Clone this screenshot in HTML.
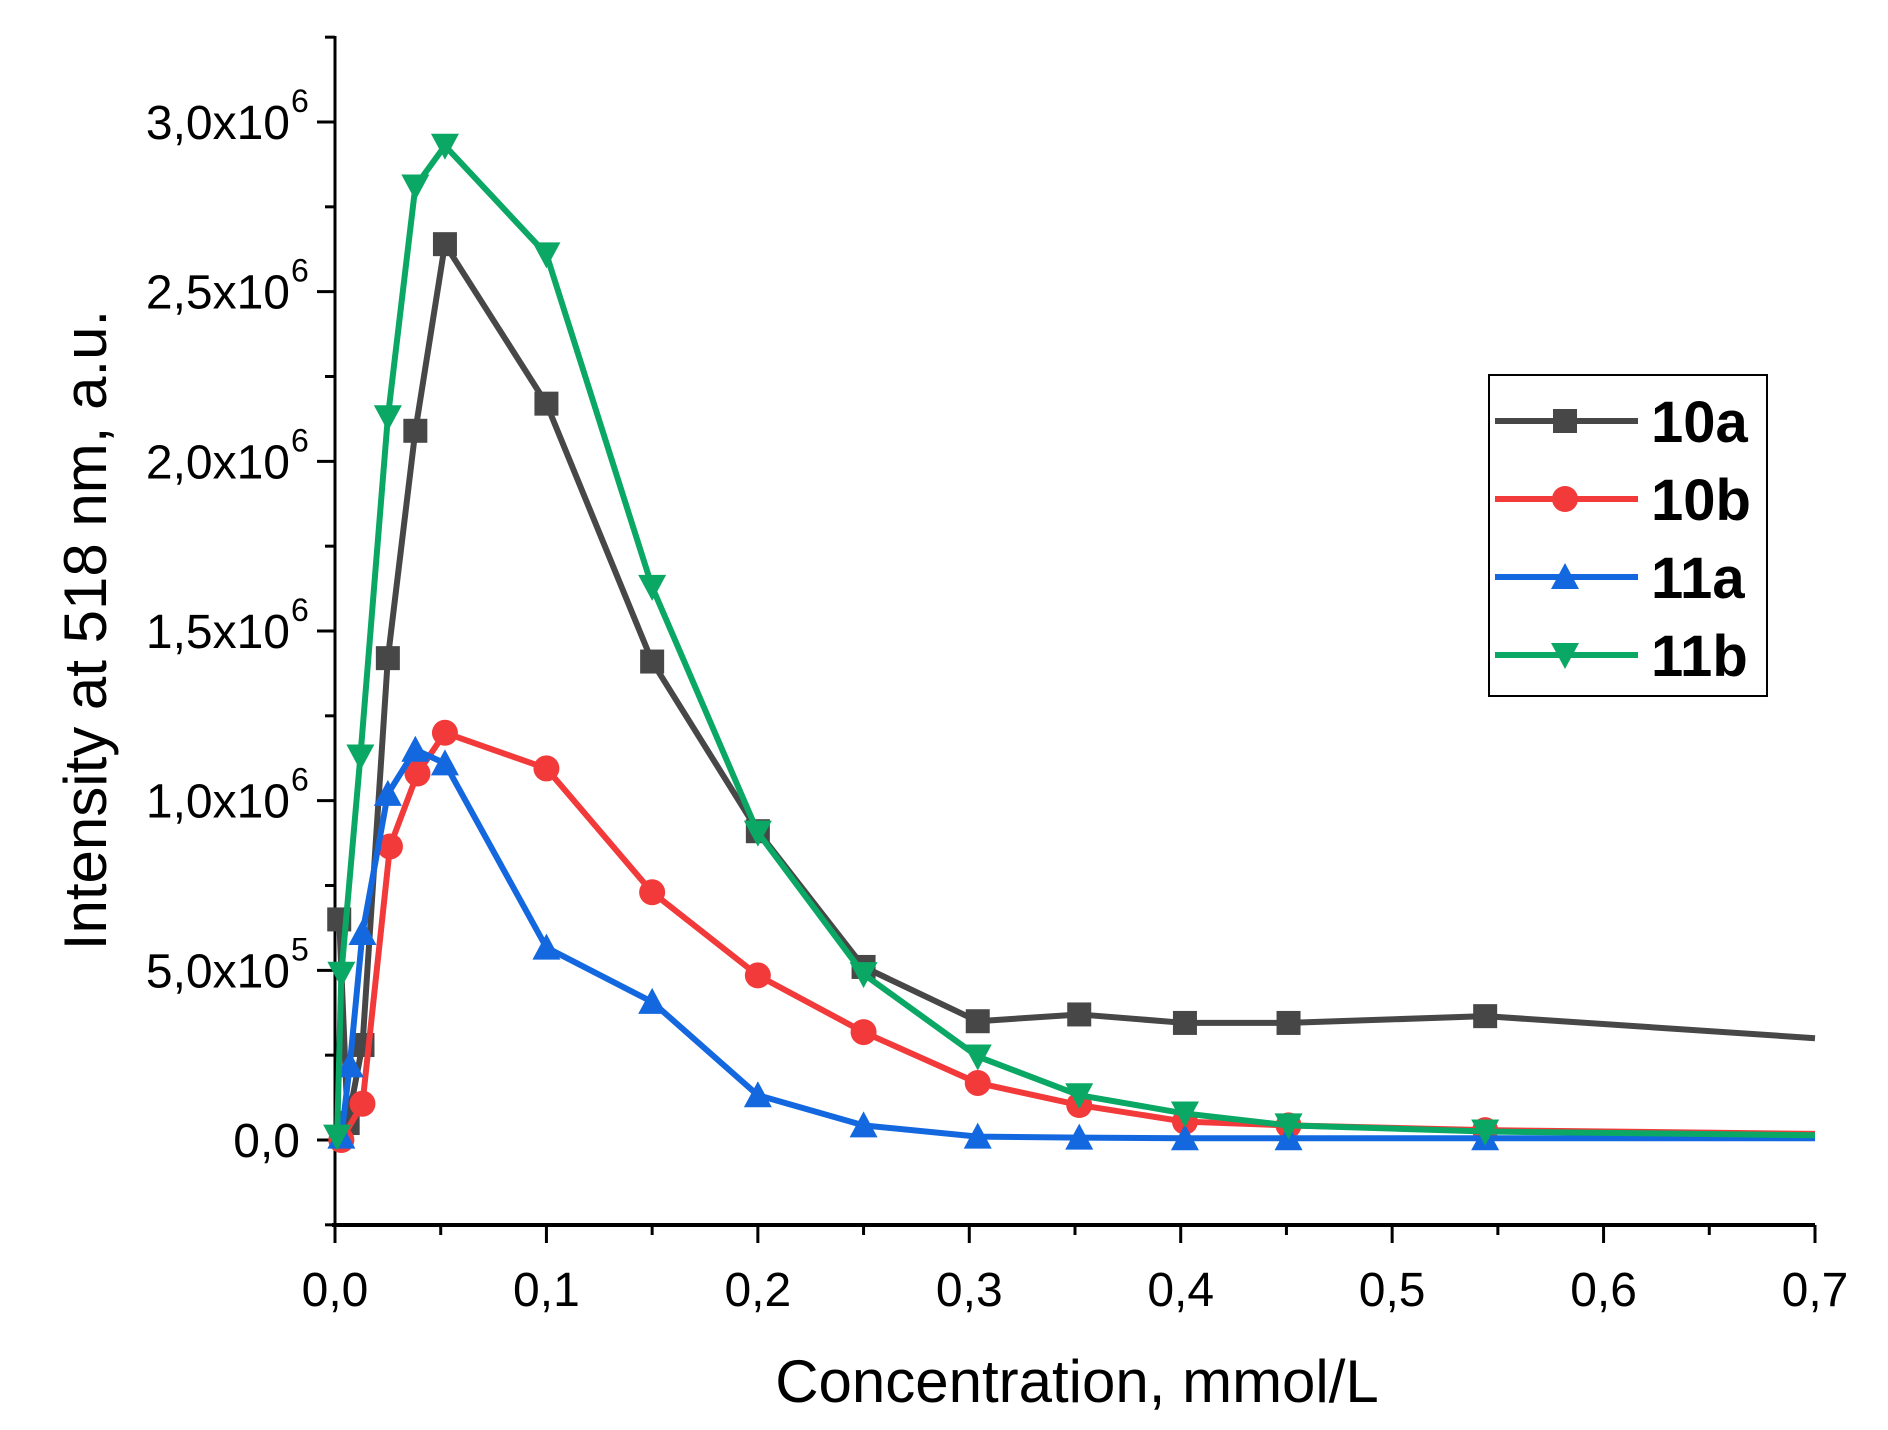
<!DOCTYPE html>
<html><head><meta charset="utf-8"><style>
html,body{margin:0;padding:0;background:#fff;}
svg{display:block;font-family:"Liberation Sans",Arial,sans-serif;}
</style></head><body>
<svg id="chart" width="1888" height="1430" viewBox="0 0 1888 1430" xmlns="http://www.w3.org/2000/svg">
<g id="axes"></g>
<g id="series"></g>
<g id="legend"></g>
<text x="1077" y="1402" font-size="60" text-anchor="middle">Concentration, mmol/L</text>
<text transform="translate(106,630) rotate(-90)" font-size="60" text-anchor="middle">Intensity at 518 nm, a.u.</text>
</svg>
<script>
const xTicks=[0,0.1,0.2,0.3,0.4,0.5,0.6,0.7];
const xTickLabels=["0,0","0,1","0,2","0,3","0,4","0,5","0,6","0,7"];
const yTicks=[0,0.5,1.0,1.5,2.0,2.5,3.0];
const yTickMant=["0,0","5,0x10","1,0x10","1,5x10","2,0x10","2,5x10","3,0x10"];
const yTickExp=["","5","6","6","6","6","6"];
const names=["10a","10b","11a","11b"];
const colors=["#474747","#f23a3a","#1368e0","#0aa864"];
const x10a=[0.002,0.006,0.013,0.025,0.038,0.052,0.1,0.15,0.2,0.25,0.304,0.352,0.402,0.451,0.544,0.7];
const y10a=[0.65,0.05,0.28,1.42,2.09,2.64,2.17,1.41,0.91,0.51,0.35,0.37,0.345,0.345,0.365,0.30];
const x10b=[0.003,0.013,0.026,0.039,0.052,0.1,0.15,0.2,0.25,0.304,0.352,0.402,0.451,0.544,0.7];
const y10b=[0.0,0.107,0.865,1.08,1.2,1.095,0.73,0.485,0.318,0.168,0.103,0.054,0.043,0.029,0.018];
const x11a=[0.003,0.007,0.013,0.025,0.038,0.052,0.1,0.15,0.2,0.25,0.304,0.352,0.402,0.451,0.544,0.7];
const y11a=[0.01,0.22,0.61,1.02,1.15,1.11,0.567,0.407,0.132,0.043,0.01,0.007,0.005,0.005,0.005,0.005];
const x11b=[0.001,0.003,0.012,0.025,0.038,0.052,0.1,0.15,0.2,0.25,0.304,0.352,0.402,0.451,0.544,0.7];
const y11b=[0.01,0.49,1.13,2.13,2.81,2.93,2.61,1.63,0.906,0.489,0.246,0.132,0.078,0.043,0.025,0.014];
const seriesX=[x10a,x10b,x11a,x11b];
const seriesY=[y10a,y10b,y11a,y11b];

const NS="http://www.w3.org/2000/svg";
const X0=335,X1=1815,YV0=1140,YV3=122;
function sx(v){return X0+(X1-X0)*v/0.7;}
function sy(v){return YV0-(YV0-YV3)*v/3.0;}
const YTOP=36,YBOT=1225;
function mk(tag,at,parent){const e=document.createElementNS(NS,tag);for(const k in at)e.setAttribute(k,at[k]);parent.appendChild(e);return e;}
const axes=document.getElementById('axes');
let yl=mk('line',{x1:X0,y1:YTOP,x2:X0,y2:YBOT,stroke:'#000','stroke-width':3},axes);


let xl=mk('line',{x1:X0-3,y1:YBOT,x2:X1,y2:YBOT,stroke:'#000','stroke-width':4},axes);


xTicks.forEach((v,i)=>{
  let t=mk('line',{x1:sx(v),y1:YBOT,x2:sx(v),y2:YBOT+18,stroke:'#000','stroke-width':3},axes);
  
  
  if(i<xTicks.length-1){let m=mk('line',{x1:sx(v+0.05),y1:YBOT,x2:sx(v+0.05),y2:YBOT+10,stroke:'#000','stroke-width':3},axes);
  
  }
  let lb=mk('text',{x:sx(v),y:1306,'font-size':48,'text-anchor':'middle'},axes);lb.textContent=xTickLabels[i];
  
  
});
for(let v=-0.25;v<=3.26;v+=0.25){
  const major=Math.abs(v*2-Math.round(v*2))<1e-6;
  let t=mk('line',{x1:X0-(major?18:10),y1:sy(v),x2:X0,y2:sy(v),stroke:'#000','stroke-width':3},axes);
  
  
}
yTicks.forEach((v,i)=>{
  let lb=mk('text',{x:yTickExp[i]?290:300,y:sy(v)+17,'font-size':48,'text-anchor':'end'},axes);
  lb.textContent=yTickMant[i];
  
  
  if(yTickExp[i]){let e=mk('text',{x:291,y:sy(v)-10,'font-size':32},axes);e.textContent=yTickExp[i];
  
  }
});
function marker(k,cx,cy,col,parent){
  const s=12;let e;
  if(k===0)e=mk('rect',{x:cx-s,y:cy-s,width:2*s,height:2*s,fill:col},parent);
  else if(k===1)e=mk('circle',{cx:cx,cy:cy,r:s+1,fill:col},parent);
  else if(k===2)e=mk('polygon',{points:`${cx},${cy-s-2} ${cx-s-2},${cy+s} ${cx+s+2},${cy+s}`,fill:col},parent);
  else e=mk('polygon',{points:`${cx},${cy+s+2} ${cx-s-2},${cy-s} ${cx+s+2},${cy-s}`,fill:col},parent);
  return e;
}
const sg=document.getElementById('series');
seriesX.forEach((xs,k)=>{
  const g=mk('g',{},sg);
  
  
  const pts=xs.map((x,i)=>sx(x)+','+sy(seriesY[k][i])).join(' ');
  let pl=mk('polyline',{points:pts,fill:'none',stroke:colors[k],'stroke-width':6,'stroke-linejoin':'round'},g);
  
  
  xs.forEach((x,i)=>{
    if(x===0.7)return;
    let m=marker(k,sx(x),sy(seriesY[k][i]),colors[k],g);
    
    
  });
});
const lg=document.getElementById('legend');
let box=mk('rect',{x:1489,y:375,width:278,height:321,fill:'#fff',stroke:'#000','stroke-width':2},lg);


names.forEach((n,k)=>{
  const y=421+k*78;
  const g=mk('g',{},lg);
  
  
  mk('line',{x1:1495,y1:y,x2:1638,y2:y,stroke:colors[k],'stroke-width':6},g);
  marker(k,1565,y,colors[k],g);
  let t=mk('text',{x:1651,y:y+21,'font-size':58,'font-weight':'bold'},g);t.textContent=n;
});
</script>
</body></html>
